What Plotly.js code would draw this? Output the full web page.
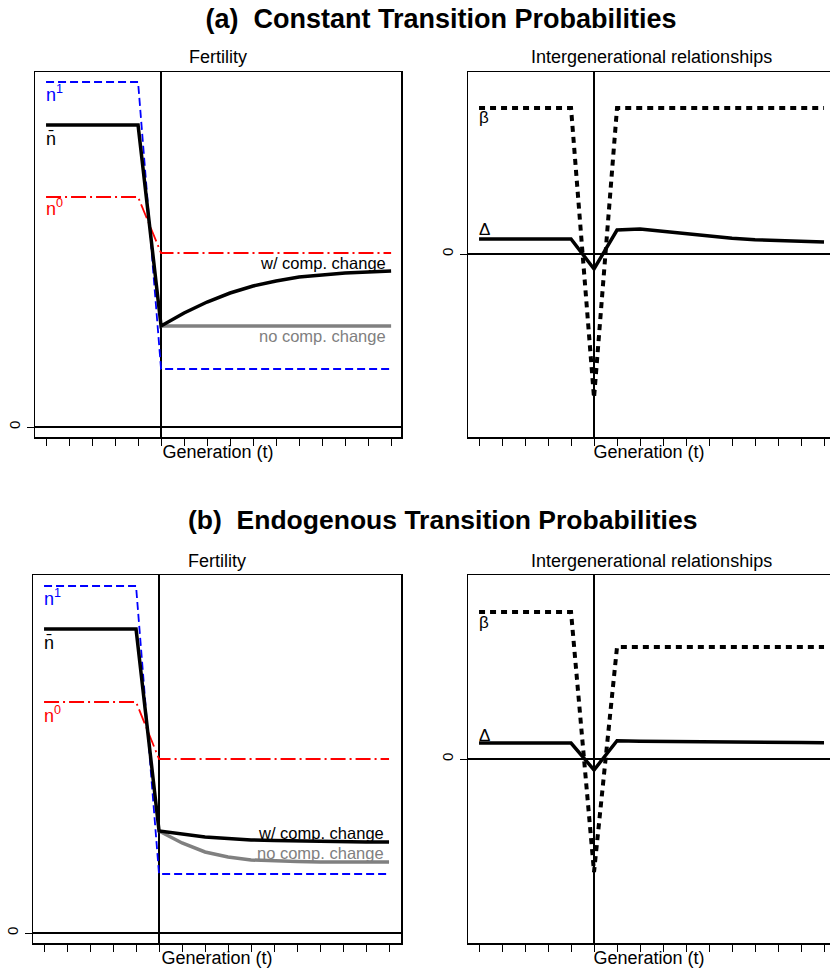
<!DOCTYPE html>
<html>
<head>
<meta charset="utf-8">
<script src="https://cdn.plot.ly/plotly-3.0.1.min.js"></script>
<style>html,body{margin:0;padding:0;background:#fff;}#chart{width:830px;height:969px;}</style>
</head>
<body>
<div id="chart"></div>
<script>
// ---------- data ----------
const generations = [-5,-4,-3,-2,-1,0,1,2,3,4,5,6,7,8,9,10];
const tickGenerations = [-5,-4,-3,-2,-1,0,1,2,3,4,5,6,7,8,9,10];
const postGenerations = [0,1,2,3,4,5,6,7,8,9,10];

// (a) Constant transition probabilities - Fertility
const aN1 = [3.45,3.45,3.45,3.45,3.45,0.58,0.58,0.58,0.58,0.58,0.58,0.58,0.58,0.58,0.58,0.58];
const aN0 = [2.30,2.30,2.30,2.30,2.30,1.74,1.74,1.74,1.74,1.74,1.74,1.74,1.74,1.74,1.74,1.74];
const aNbarWithComp = [3.02,3.02,3.02,3.02,3.02,1.01,1.14,1.25,1.34,1.41,1.46,1.50,1.52,1.54,1.55,1.56];
const aNoComp = [1.01,1.01,1.01,1.01,1.01,1.01,1.01,1.01,1.01,1.01,1.01];
// (a) Intergenerational relationships
const aBeta = [1.46,1.46,1.46,1.46,1.46,-1.44,1.46,1.46,1.46,1.46,1.46,1.46,1.46,1.46,1.46,1.46];
const aDelta = [0.15,0.15,0.15,0.15,0.15,-0.15,0.24,0.25,0.228,0.20,0.177,0.158,0.143,0.133,0.125,0.12];

// (b) Endogenous transition probabilities - Fertility
const bN1 = [3.47,3.47,3.47,3.47,3.47,0.59,0.59,0.59,0.59,0.59,0.59,0.59,0.59,0.59,0.59,0.59];
const bN0 = [2.31,2.31,2.31,2.31,2.31,1.74,1.74,1.74,1.74,1.74,1.74,1.74,1.74,1.74,1.74,1.74];
const bNbarWithComp = [3.04,3.04,3.04,3.04,3.04,1.02,0.99,0.96,0.945,0.93,0.925,0.92,0.915,0.91,0.91,0.91];
const bNoComp = [1.02,0.90,0.81,0.76,0.73,0.72,0.715,0.71,0.71,0.71,0.71];
// (b) Intergenerational relationships
const bBeta = [1.47,1.47,1.47,1.47,1.47,-1.13,1.12,1.12,1.12,1.12,1.12,1.12,1.12,1.12,1.12,1.12];
const bDelta = [0.16,0.16,0.16,0.16,0.16,-0.11,0.183,0.178,0.175,0.172,0.170,0.168,0.166,0.165,0.164,0.163];

const panelTitles = ['Fertility','Intergenerational relationships'];
const mainTitles = ['(a)\u00a0 Constant Transition Probabilities','(b)\u00a0 Endogenous Transition Probabilities'];
const xTitle = 'Generation (t)';

// ---------- styling ----------
const W = 830, H = 969;
const FONT = 'Liberation Sans, Arial, Helvetica, sans-serif';
const BLUE = '#0000ff', RED = '#ff0000', GRAY = '#808080';
const px = (a,b) => [a/W, b/W];
const py = (top,bottom) => [1-bottom/H, 1-top/H];

function line(x, y, xa, ya, color, width, dash) {
  return {x, y, xaxis: xa, yaxis: ya, type: 'scatter', mode: 'lines',
          line: {color, width, dash: dash || 'solid'}, hoverinfo: 'skip', showlegend: false};
}

const traces = [
  // panel a fertility
  line(generations, aN1, 'x', 'y', BLUE, 1.8, '8px,4px'),
  line(generations, aN0, 'x', 'y', RED, 1.8, '15px,4px,2px,4px'),
  line(postGenerations, aNoComp, 'x', 'y', GRAY, 3.5),
  line(generations, aNbarWithComp, 'x', 'y', 'black', 3.5),
  // panel a intergen
  line(generations, aBeta, 'x2', 'y2', 'black', 4, '6px,5px'),
  line(generations, aDelta, 'x2', 'y2', 'black', 3.5),
  // panel b fertility
  line(generations, bN1, 'x3', 'y3', BLUE, 1.8, '8px,4px'),
  line(generations, bN0, 'x3', 'y3', RED, 1.8, '15px,4px,2px,4px'),
  line(postGenerations, bNoComp, 'x3', 'y3', GRAY, 3.5),
  line(generations, bNbarWithComp, 'x3', 'y3', 'black', 3.5),
  // panel b intergen
  line(generations, bBeta, 'x4', 'y4', 'black', 4, '6px,5px'),
  line(generations, bDelta, 'x4', 'y4', 'black', 3.5)
];

function xAxis(domain, range, anchor) {
  return {domain, range, anchor, showgrid: false,
    zeroline: true, zerolinecolor: 'black', zerolinewidth: 2,
    showline: true, linecolor: 'black', linewidth: 1.5, mirror: true,
    ticks: 'outside', ticklen: 7, tickwidth: 1, tickcolor: 'black',
    tickmode: 'array', tickvals: tickGenerations, showticklabels: false,
    title: {text: xTitle, font: {size: 18, color: 'black', family: FONT}, standoff: 1},
    fixedrange: true};
}
function yAxis(domain, range, anchor, mirror) {
  return {domain, range, anchor, showgrid: false,
    zeroline: true, zerolinecolor: 'black', zerolinewidth: 2,
    showline: true, linecolor: 'black', linewidth: 1.5, mirror,
    ticks: 'outside', ticklen: 7, tickwidth: 1, tickcolor: 'black',
    tickmode: 'array', tickvals: [0], ticktext: ['0'], tickangle: -90,
    tickfont: {size: 15, color: 'black', family: FONT}, ticklabelstandoff: 1,
    fixedrange: true};
}

const dA1 = py(72, 437), dB1 = py(575, 943);
const layout = {
  width: W, height: H, margin: {l: 0, r: 0, t: 0, b: 0},
  paper_bgcolor: 'white', plot_bgcolor: 'white',
  font: {family: FONT, size: 16, color: 'black'},
  showlegend: false,
  title: {text: '<b>' + mainTitles[0] + '</b>', x: 441/W, xanchor: 'center', xref: 'paper',
          y: 1 - 19/H, yanchor: 'middle', yref: 'paper', font: {size: 27, family: FONT, color: 'black'}},
  xaxis: xAxis(px(35, 401), [-5.48, 10.43], 'y'),
  yaxis: yAxis(dA1, [-0.10, 3.55], 'x', true),
  xaxis2: xAxis([468/W, 1], [-5.48, 10.26], 'y2'),
  yaxis2: yAxis(dA1, [-1.83, 1.82], 'x2', false),
  xaxis3: xAxis(px(33, 401), [-5.48, 10.52], 'y3'),
  yaxis3: yAxis(dB1, [-0.10, 3.58], 'x3', true),
  xaxis4: xAxis([468/W, 1], [-5.48, 10.26], 'y4'),
  yaxis4: yAxis(dB1, [-1.84, 1.84], 'x4', false),
  annotations: []
};

const ann = layout.annotations;
function lab(text, x, y, xr, yr, color, xanchor, size) {
  ann.push({text, x, y, xref: xr, yref: yr, xanchor: xanchor || 'left', yanchor: 'middle',
            showarrow: false, font: {size: size || 18, color, family: FONT}});
}
// main title (b)
ann.push({text: '<b>' + mainTitles[1] + '</b>', x: 442/W, y: 1 - 520/H, xref: 'paper', yref: 'paper',
          xanchor: 'center', yanchor: 'middle', showarrow: false, font: {size: 26.5, family: FONT, color: 'black'}});
// panel titles
[[218, 57], [651, 57], [217, 561], [651, 561]].forEach((p, i) => {
  ann.push({text: panelTitles[i % 2], x: p[0]/W, y: 1 - p[1]/H, xref: 'paper', yref: 'paper',
            xanchor: 'center', yanchor: 'middle', showarrow: false, font: {size: 18, family: FONT, color: 'black'}});
});
const NBAR = 'n\u0304';
// labels panel a
lab('n<sup>1</sup>', -5.1, 3.33, 'x', 'y', BLUE);
lab(NBAR, -5.1, 2.88, 'x', 'y', 'black');
lab('n<sup>0</sup>', -5.1, 2.19, 'x', 'y', RED);
lab('w/ comp. change', 9.85, 1.64, 'x', 'y', 'black', 'right', 16.5);
lab('no comp. change', 9.85, 0.91, 'x', 'y', GRAY, 'right', 16.5);
lab('\u03b2', -5.1, 1.36, 'x2', 'y2', 'black', 'left', 17);
lab('\u0394', -5.1, 0.24, 'x2', 'y2', 'black', 'left', 17);
// labels panel b
lab('n<sup>1</sup>', -5.1, 3.36, 'x3', 'y3', BLUE);
lab(NBAR, -5.1, 2.90, 'x3', 'y3', 'black');
lab('n<sup>0</sup>', -5.1, 2.19, 'x3', 'y3', RED);
lab('w/ comp. change', 9.85, 1.00, 'x3', 'y3', 'black', 'right', 16.5);
lab('no comp. change', 9.85, 0.80, 'x3', 'y3', GRAY, 'right', 16.5);
lab('\u03b2', -5.1, 1.37, 'x4', 'y4', 'black', 'left', 17);
lab('\u0394', -5.1, 0.24, 'x4', 'y4', 'black', 'left', 17);

Plotly.newPlot('chart', traces, layout, {staticPlot: true, displayModeBar: false});
</script>
</body>
</html>
